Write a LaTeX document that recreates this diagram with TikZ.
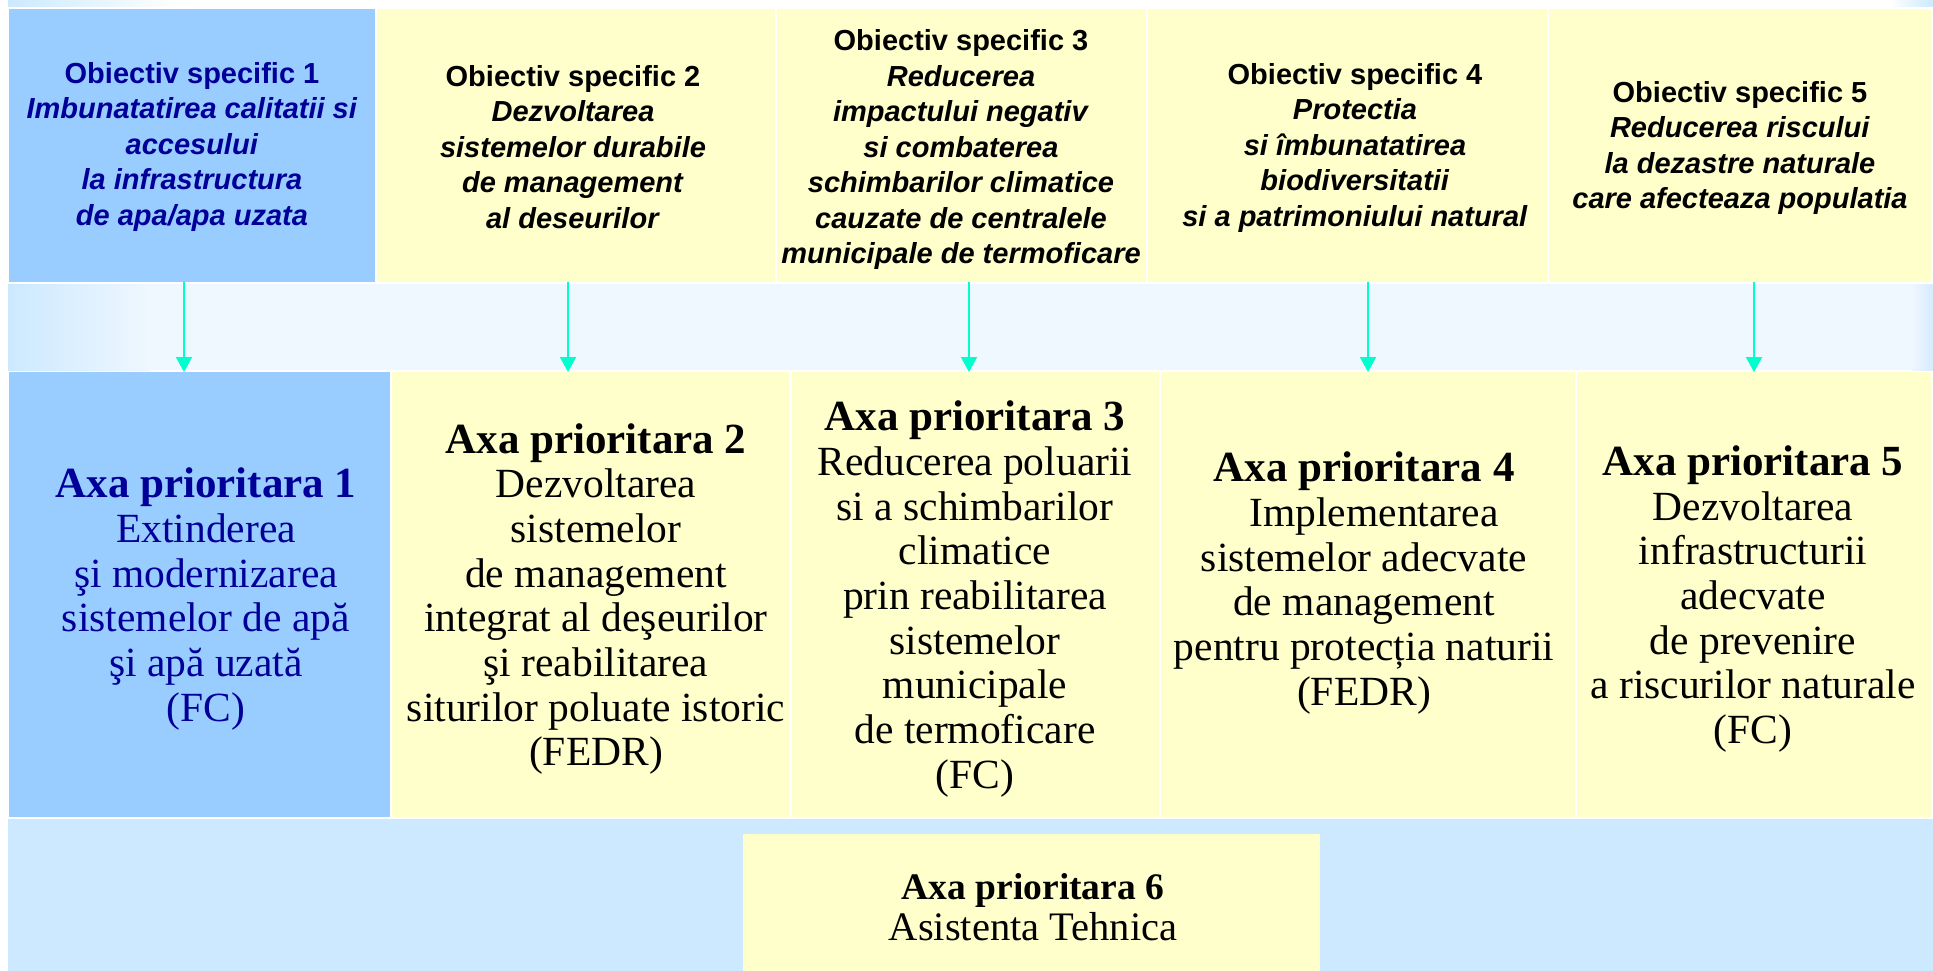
\documentclass[tikz,border=0pt]{standalone}
\usepackage{fontspec}
\setmainfont{Liberation Serif}
\newfontfamily\arialf{Liberation Sans}
\usetikzlibrary{arrows.meta}
\definecolor{boxblue}{HTML}{99CCFF}
\definecolor{boxyellow}{HTML}{FFFFCC}
\definecolor{bandblue}{HTML}{CCE9FF}
\definecolor{bandpale}{HTML}{EFF7FF}
\definecolor{navytext}{HTML}{000099}
\definecolor{arrowc}{HTML}{00FFCC}
\begin{document}
\begin{tikzpicture}[x=1pt,y=-1pt,
  panel/.style={anchor=north west, inner sep=0pt, outer sep=0pt, draw=none},
  objtext/.style={font={\arialf\fontsize{29}{35.5}\selectfont\bfseries}, align=center, inner sep=0pt},
  axtext/.style={font={\fontsize{41.5}{44.7}\selectfont}, align=center, inner sep=0pt},
  link/.style={draw=arrowc, line width=2pt, -{Triangle[length=15pt,width=16pt]}}
]
\useasboundingbox (0,0) rectangle (1933,971);
\fill[white] (0,0) rectangle (1933,971);
% top strip
\shade[left color=bandblue, right color=white] (8,0) rectangle (180,7);
\shade[left color=white, right color=bandblue] (1890,0) rectangle (1933,7);
% arrow band
\fill[bandpale] (8,284) rectangle (1933,370);
\shade[left color=bandblue, right color=bandpale] (8,284) rectangle (150,370);
\shade[left color=bandpale, right color={rgb,255:red,214;green,234;blue,255}] (1912,284) rectangle (1933,370);
% bottom band
\fill[bandblue] (8,819) rectangle (1933,971);

% top row panels
\node[panel, fill=boxblue,   minimum width=366pt, minimum height=273pt] (t1) at (9,9) {};
\node[panel, fill=boxyellow, minimum width=398pt, minimum height=273pt] (t2) at (377,9) {};
\node[panel, fill=boxyellow, minimum width=369pt, minimum height=273pt] (t3) at (777,9) {};
\node[panel, fill=boxyellow, minimum width=399pt, minimum height=273pt] (t4) at (1148,9) {};
\node[panel, fill=boxyellow, minimum width=382pt, minimum height=273pt] (t5) at (1549,9) {};

% lower row panels
\node[panel, fill=boxblue,   minimum width=381pt, minimum height=445pt] (b1) at (9,372) {};
\node[panel, fill=boxyellow, minimum width=397pt, minimum height=445pt] (b2) at (392,372) {};
\node[panel, fill=boxyellow, minimum width=367pt, minimum height=445pt] (b3) at (792,372) {};
\node[panel, fill=boxyellow, minimum width=414pt, minimum height=445pt] (b4) at (1161,372) {};
\node[panel, fill=boxyellow, minimum width=354pt, minimum height=445pt] (b5) at (1577,372) {};

% bottom panel
\node[panel, fill=boxyellow, minimum width=577pt, minimum height=137pt] (b6) at (743,834) {};

% top texts
\node[objtext, text=navytext] (o1) at (192,147) {Obiectiv specific 1\\\textit{Imbunatatirea calitatii si}\\\textit{accesului}\\\textit{la infrastructura}\\\textit{de apa/apa uzata}};
\node[objtext] (o2) at (573,147) {Obiectiv specific 2\\\textit{Dezvoltarea}\\\textit{sistemelor durabile}\\\textit{de management}\\\textit{al deseurilor}};
\node[objtext] (o3) at (961,150) {Obiectiv specific 3\\\textit{Reducerea}\\\textit{impactului negativ}\\\textit{si combaterea}\\\textit{schimbarilor climatice}\\\textit{cauzate de centralele}\\\textit{municipale de termoficare}};
\node[objtext] (o4) at (1355,148) {Obiectiv specific 4\\\textit{Protectia}\\\textit{si îmbunatatirea}\\\textit{biodiversitatii}\\\textit{si a patrimoniului natural}};
\node[objtext] (o5) at (1740,148) {Obiectiv specific 5\\\textit{Reducerea riscului}\\\textit{la dezastre naturale}\\\textit{care afecteaza populatia}};

% lower texts
\node[axtext, text=navytext] (a1) at (206,599) {{\fontsize{43}{44.7}\selectfont\bfseries Axa prioritara 1}\\Extinderea\\şi modernizarea\\sistemelor de apă\\şi apă uzată\\(FC)};
\node[axtext] (a2) at (596,599) {{\fontsize{43}{44.7}\selectfont\bfseries Axa prioritara 2}\\Dezvoltarea\\sistemelor\\de management\\integrat al deşeurilor\\şi reabilitarea\\siturilor poluate istoric\\(FEDR)};
\node[axtext] (a3) at (975,599) {{\fontsize{43}{44.7}\selectfont\bfseries Axa prioritara 3}\\Reducerea poluarii\\si a schimbarilor\\climatice\\prin reabilitarea\\sistemelor\\municipale\\de termoficare\\(FC)};
\node[axtext] (a4) at (1364,583) {{\fontsize{43}{44.7}\selectfont\bfseries Axa prioritara 4}\\\hspace*{20pt}Implementarea\\sistemelor adecvate\\de management\\pentru protecția naturii\\(FEDR)};
\node[axtext] (a5) at (1753,599) {{\fontsize{43}{44.7}\selectfont\bfseries Axa prioritara 5}\\Dezvoltarea\\infrastructurii\\adecvate\\de prevenire\\a riscurilor naturale\\(FC)};
\node[align=center, inner sep=0pt, font={\fontsize{40.5}{41}\selectfont}] (a6) at (1033,907) {{\fontsize{37.5}{41}\selectfont\bfseries Axa prioritara 6}\\Asistenta Tehnica};

% arrows
\coordinate (c1) at (184,0);
\coordinate (c2) at (568,0);
\coordinate (c3) at (969,0);
\coordinate (c4) at (1368,0);
\coordinate (c5) at (1754,0);
\draw[link] (t1.south -| c1) -- (b1.north -| c1);
\draw[link] (t2.south -| c2) -- (b2.north -| c2);
\draw[link] (t3.south -| c3) -- (b3.north -| c3);
\draw[link] (t4.south -| c4) -- (b4.north -| c4);
\draw[link] (t5.south -| c5) -- (b5.north -| c5);
\end{tikzpicture}
\end{document}
